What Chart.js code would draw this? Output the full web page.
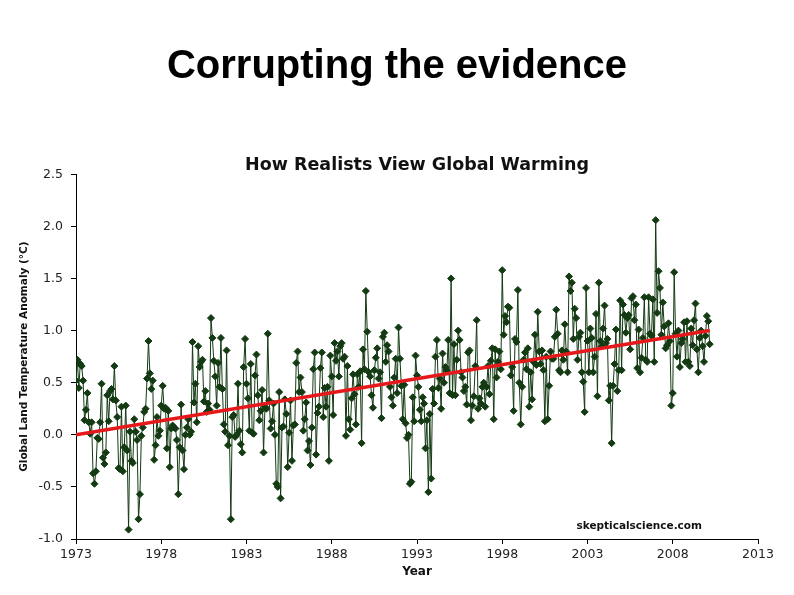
<!DOCTYPE html>
<html>
<head>
<meta charset="utf-8">
<script src="https://cdn.jsdelivr.net/npm/chart.js@4.4.1/dist/chart.umd.min.js"></script>
<style>
  html, body { margin: 0; padding: 0; background: #ffffff; }
  #wrap { width: 794px; height: 595px; }
</style>
</head>
<body>
<div id="wrap"><canvas id="c" width="794" height="595"></canvas></div>
<script>
// ---- Data (monthly global land temperature anomaly, °C) ----
const startYear = 1973;
const anom1970s = [
  0.52, 0.72, 0.45, 0.68, 0.66, 0.52, 0.14, 0.24, 0.40, 0.12, 0.01, 0.12,
  -0.37, -0.47, -0.35, -0.03, -0.04, 0.12, 0.49, -0.22, -0.28, -0.17, 0.38, 0.13,
  0.42, 0.44, 0.34, 0.66, 0.33, 0.17, -0.32, -0.33, 0.27, -0.35, -0.12, 0.28,
  -0.15, -0.91, 0.03, -0.25, -0.27, 0.15, 0.03, -0.05, -0.81, -0.57, -0.01, 0.07,
  0.22, 0.25, 0.54, 0.90, 0.59, 0.44, 0.52, -0.24, -0.10, 0.17, -0.01, 0.04,
  0.28, 0.47, 0.25, 0.26, -0.13, 0.23, -0.31, 0.06, 0.09, 0.07, 0.06, -0.05,
  -0.57, -0.12, 0.29, -0.15, -0.33, 0.00, 0.07, 0.15, 0.00, 0.03, 0.89, 0.31
];
const anom1980s = [
  0.49, 0.12, 0.85, 0.65, 0.70, 0.72, 0.32, 0.42, 0.22, 0.30, 0.24, 1.12,
  0.93, 0.71, 0.56, 0.28, 0.69, 0.46, 0.93, 0.44, 0.10, 0.03, 0.81, -0.10,
  -0.01, -0.81, 0.17, 0.19, -0.02, 0.00, 0.49, 0.04, -0.09, -0.17, 0.65, 0.92,
  0.49, 0.35, 0.04, 0.68, 0.02, 0.01, 0.57, 0.77, 0.38, 0.14, 0.23, 0.43,
  -0.17, 0.27, 0.25, 0.97, 0.33, 0.06, 0.13, 0.30, 0.00, -0.47, -0.50, 0.41,
  -0.61, 0.07, 0.08, 0.34, 0.20, -0.31, 0.02, 0.33, -0.25, 0.09, 0.10, 0.69,
  0.80, 0.41, 0.55, 0.41, 0.04, 0.15, 0.31, -0.15, -0.06, -0.29, 0.07, 0.63,
  0.79, -0.19, 0.21, 0.27, 0.64, 0.79, 0.17, 0.45, 0.27, 0.46, -0.25, 0.76,
  0.56, 0.19, 0.88, 0.71, 0.80, 0.56, 0.85, 0.88, 0.73, 0.75, -0.01, 0.66,
  0.15, 0.05, 0.35, 0.58, 0.39, 0.10, 0.58, 0.46, 0.61, -0.08, 0.82, 0.63
];
const anom1990s = [
  1.38, 0.99, 0.60, 0.56, 0.38, 0.26, 0.62, 0.74, 0.83, 0.54, 0.60, 0.16,
  0.94, 0.98, 0.70, 0.86, 0.80, 0.46, 0.36, 0.28, 0.55, 0.73, 0.40, 1.03,
  0.73, 0.47, 0.15, 0.48, 0.11, -0.03, 0.00, -0.47, -0.45, 0.36, 0.13, 0.76,
  0.57, 0.46, 0.24, 0.13, 0.36, 0.30, -0.13, 0.14, -0.55, 0.20, -0.42, 0.44,
  0.30, 0.75, 0.91, 0.45, 0.54, 0.25, 0.78, 0.50, 0.65, 0.62, 0.91, 0.40,
  1.50, 0.38, 0.87, 0.38, 0.72, 1.00, 0.91, 0.60, 0.55, 0.42, 0.46, 0.29,
  0.79, 0.81, 0.14, 0.28, 0.37, 0.66, 1.10, 0.25, 0.35, 0.30, 0.46, 0.50,
  0.27, 0.46, 0.66, 0.39, 0.71, 0.83, 0.15, 0.82, 0.55, 0.70, 0.80, 0.63,
  1.58, 0.96, 1.14, 1.08, 1.23, 1.22, 0.57, 0.65, 0.23, 0.92, 0.89, 1.39,
  0.50, 0.10, 0.46, 0.72, 0.79, 0.63, 0.83, 0.27, 0.60, 0.34, 0.70, 0.96
];
const anom2000s = [
  0.67, 1.18, 0.80, 0.68, 0.81, 0.62, 0.13, 0.75, 0.15, 0.47, 0.80, 0.73,
  0.73, 0.94, 1.20, 0.97, 0.62, 0.60, 0.81, 0.72, 1.06, 0.80, 0.60, 1.52,
  1.38, 1.46, 0.92, 1.21, 1.12, 0.72, 0.94, 0.98, 0.60, 0.51, 0.22, 1.41,
  0.90, 0.60, 1.02, 0.93, 0.60, 0.75, 1.16, 0.37, 1.46, 0.90, 0.85, 1.02,
  1.24, 0.88, 0.92, 0.33, 0.47, -0.08, 0.47, 0.68, 1.01, 0.42, 0.62, 1.29,
  0.62, 1.25, 1.15, 0.98, 1.12, 1.15, 0.82, 1.31, 1.33, 1.10, 1.25, 0.64,
  1.01, 0.60, 0.74, 0.93, 1.32, 0.72, 0.70, 1.32, 0.97, 0.95, 1.30, 0.70,
  2.06, 1.17, 1.57, 1.41, 0.96, 1.27, 1.04, 0.83, 0.86, 1.07, 0.90, 0.28,
  0.40, 1.56, 0.97, 0.75, 1.00, 0.65, 0.88, 0.92, 1.08, 0.70, 1.09, 0.70,
  0.66, 1.02, 0.86, 1.10, 1.26, 0.82, 0.60, 0.93, 1.00, 0.85, 0.70, 0.95
];
const anom2010s = [1.14, 1.09, 0.87];

// Linear trend (red line), start and end
const trendYears = [1973.0, 2010.17];
const trendValues = [0.0, 1.0];

// Axis ticks
const xTicks = [1973, 1978, 1983, 1988, 1993, 1998, 2003, 2008, 2013];
const yTicks = [-1.0, -0.5, 0.0, 0.5, 1.0, 1.5, 2.0, 2.5];

// ---- Build chart ----
const monthly = [].concat(anom1970s, anom1980s, anom1990s, anom2000s, anom2010s);
const anomalyPoints = monthly.map((v, i) => ({ x: startYear + i / 12, y: v }));
const trendPoints = trendYears.map((yr, i) => ({ x: yr, y: trendValues[i] }));

const GREEN = '#133a12';
const RED = '#e5191b';
const FONT = '"DejaVu Sans", Verdana, sans-serif';

const watermark = {
  id: 'watermark',
  afterDatasetsDraw(chart) {
    const { ctx, chartArea } = chart;
    ctx.save();
    ctx.font = 'bold 10.5px "DejaVu Sans"';
    ctx.fillStyle = '#111111';
    ctx.textAlign = 'right';
    ctx.textBaseline = 'middle';
    ctx.fillText('skepticalscience.com', chartArea.right - 56, chartArea.bottom - 13);
    ctx.restore();
  }
};

new Chart(document.getElementById('c'), {
  type: 'line',
  data: {
    datasets: [
      {
        label: 'Trend',
        data: trendPoints,
        borderColor: RED,
        borderWidth: 3.5,
        pointRadius: 0,
        fill: false,
        tension: 0,
        order: 0
      },
      {
        label: 'Global Land Temperature Anomaly',
        data: anomalyPoints,
        borderColor: GREEN,
        backgroundColor: GREEN,
        borderWidth: 1,
        pointStyle: 'rectRot',
        pointRadius: 3.5,
        pointBorderWidth: 1,
        pointBackgroundColor: GREEN,
        pointBorderColor: GREEN,
        fill: false,
        tension: 0,
        order: 1
      }
    ]
  },
  options: {
    responsive: false,
    animation: false,
    layout: { padding: 0 },
    plugins: {
      legend: { display: false },
      tooltip: { enabled: false },
      title: {
        display: true,
        text: 'Corrupting the evidence',
        color: '#000000',
        font: { family: '"Liberation Sans", Arial, sans-serif', size: 40, weight: 'bold', lineHeight: 1.2 },
        padding: { top: 42.5, bottom: 0 }
      },
      subtitle: {
        display: true,
        fullSize: false,
        text: 'How Realists View Global Warming',
        color: '#111111',
        font: { family: FONT, size: 17.5, weight: 'bold', lineHeight: 0.96 },
        padding: { top: 67, bottom: 0 }
      }
    },
    scales: {
      x: {
        type: 'linear',
        min: 1973,
        max: 2013,
        afterFit(axis) { axis.height = 56; },
        afterBuildTicks(axis) { axis.ticks = xTicks.map(v => ({ value: v })); },
        ticks: {
          color: '#222222',
          font: { family: FONT, size: 12.5 },
          padding: 3,
          maxRotation: 0,
          autoSkip: false,
          callback: (v) => String(v)
        },
        grid: { display: true, drawOnChartArea: false, drawTicks: true, tickLength: 5, color: '#000000' },
        border: { display: true, color: '#000000', width: 1 },
        title: {
          display: true,
          text: 'Year',
          color: '#111111',
          font: { family: FONT, size: 12, weight: 'bold' },
          padding: { top: 0, bottom: 16 }
        }
      },
      y: {
        type: 'linear',
        position: 'left',
        min: -1.0,
        max: 2.5,
        afterFit(axis) { axis.width = 76; },
        afterBuildTicks(axis) { axis.ticks = yTicks.map(v => ({ value: v })); },
        ticks: {
          color: '#222222',
          font: { family: FONT, size: 12.5 },
          padding: 8,
          autoSkip: false,
          callback: (v) => Number(v).toFixed(1)
        },
        grid: { display: true, drawOnChartArea: false, drawTicks: true, tickLength: 5, color: '#000000' },
        border: { display: true, color: '#000000', width: 1 },
        title: {
          display: true,
          text: 'Global Land Temperature Anomaly (°C)',
          color: '#111111',
          font: { family: FONT, size: 10.5, weight: 'bold' },
          padding: { top: 18, bottom: 0 }
        }
      },
      // empty right margin (keeps plot area clear of the right edge)
      yRight: {
        type: 'linear',
        position: 'right',
        display: true,
        afterFit(axis) { axis.width = 36; },
        ticks: { display: false },
        grid: { display: false },
        border: { display: false },
        title: { display: false }
      }
    }
  },
  plugins: [watermark]
});
</script>
</body>
</html>
